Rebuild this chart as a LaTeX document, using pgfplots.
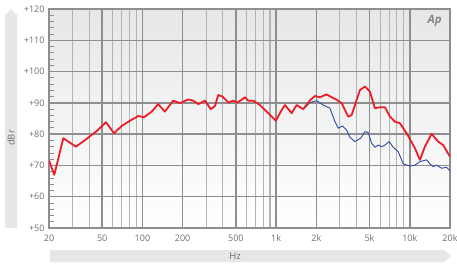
\documentclass[border=0pt]{standalone}
\usepackage{fontspec}
\setmainfont{Open Sans}
\usepackage{pgfplots}
\pgfplotsset{compat=1.18}
\definecolor{bandgray}{HTML}{E6E7E8}
\definecolor{txtgray}{HTML}{6D6E71}
\definecolor{gridgray}{HTML}{8E8E90}
\definecolor{gridlight}{HTML}{B3B3B5}
\definecolor{apred}{HTML}{EE1C25}
\definecolor{apblue}{HTML}{2E4A9E}
\begin{document}
\begin{tikzpicture}
\useasboundingbox (0pt,0pt) rectangle (457pt,266pt);
\fill[bandgray] (5pt,38pt) -- (5pt,251pt) -- (11pt,257pt) -- (17pt,251pt) -- (17pt,38pt) -- cycle;
\node[rotate=90, text=txtgray, font=\fontsize{9.5}{10}\selectfont] at (11pt,128pt) {dBr};
\fill[bandgray] (50pt,4pt) -- (444pt,4pt) -- (451pt,10pt) -- (444pt,16pt) -- (50pt,16pt) -- cycle;
\node[text=txtgray, font=\fontsize{9.5}{10}\selectfont] at (235pt,10pt) {Hz};
\begin{axis}[
  at={(49pt,38pt)}, anchor=south west,
  scale only axis, width=401pt, height=219pt,
  xmode=log, xmin=20, xmax=20000, ymin=50, ymax=120,
  axis background/.style={shade, top color=bandgray, bottom color=white},
  axis line style={gridgray, line width=1.3pt},
  xtick={20,50,100,200,500,1000,2000,5000,10000,20000},
  xticklabels={20,50,100,200,500,1k,2k,5k,10k,20k},
  minor xtick={30,40,60,70,80,90,300,400,600,700,800,900,3000,4000,6000,7000,8000,9000},
  ytick={50,60,...,120},
  yticklabels={+50,+60,+70,+80,+90,+100,+110,+120},
  minor ytick={52,54,...,118},
  xmajorgrids, xminorgrids, ymajorgrids,
  major x grid style={gridgray, line width=1.5pt},
  minor x grid style={gridlight, line width=1.1pt},
  major y grid style={gridgray, line width=1.5pt},
  xtick style={draw=none},
  major y tick style={draw=none},
  minor y tick style={gridgray, line width=0.8pt},
  minor tick length=5pt,
  ytick pos=left,
  tick label style={text=txtgray, font=\fontsize{9}{10}\selectfont},
  /pgf/number format/assume math mode=true,
  yticklabel style={xshift=-1pt},
  xticklabel style={yshift=-3pt},
  clip=true,
]
\addplot[apblue, line width=0.9pt, line join=round] coordinates {
(1425,89.3) (1596,88.0) (1792,90.1) (2010,90.7) (2252,89.3) (2528,88.3)
(2756,84.0) (2916,81.9) (3146,82.6) (3370,81.3) (3568,79.0) (3888,77.6)
(4290,78.7) (4618,80.8) (4888,80.5) (5184,77.1) (5488,75.8) (5808,76.5)
(6158,76.0) (6520,76.5) (7020,77.6) (7520,75.8) (8198,74.4) (8934,70.5)
(10026,69.8) (10930,70.1) (11912,71.2) (13368,71.8) (14150,70.5) (14976,69.6)
(15880,70.1) (17300,69.1) (18860,69.4) (20000,68.3)
};
\addplot[apred, line width=1.8pt, line join=round] coordinates {
(20,71.6) (21.9,67) (25.6,78.7) (31.8,76) (37.2,78.1) (45.5,81) (53.4,83.8)
(61.3,80.3) (69.9,82.6) (80.7,84.3) (93.1,85.8) (102.7,85.4) (117.3,87.2)
(131,89.6) (147,87.2) (170,90.7) (191,89.9) (220,91.1) (240,90.7) (262,89.6)
(294,90.7) (324,88.0) (349,89.0) (369,92.5) (398,92.0) (439,90.1) (478,90.7)
(512,90.1) (553,91.0) (585,91.8) (619,90.7) (675,90.7) (757,89.3) (850,87.2)
(997,84.3) (1100,87.7) (1165,89.3) (1307,86.7) (1425,89.3) (1596,88.0)
(1792,90.8) (1952,92.2) (2128,91.8) (2388,92.7) (2604,91.8) (2838,91.0)
(3092,89.9) (3464,85.6) (3674,86.1) (4238,94.1) (4618,95.2) (5034,93.6)
(5488,88.3) (5980,88.6) (6520,88.6) (7106,85.6) (7740,84.0) (8440,83.5)
(9472,80.3) (10930,75.5) (11912,71.8) (12984,76.0) (14570,80.1) (16320,77.6)
(17780,76.5) (20000,72.8)
};
\node[text=txtgray!85, font=\bfseries\itshape\fontsize{11.5}{12}\selectfont] at (rel axis cs:0.962,0.945) {Ap};
\end{axis}
\end{tikzpicture}
\end{document}
